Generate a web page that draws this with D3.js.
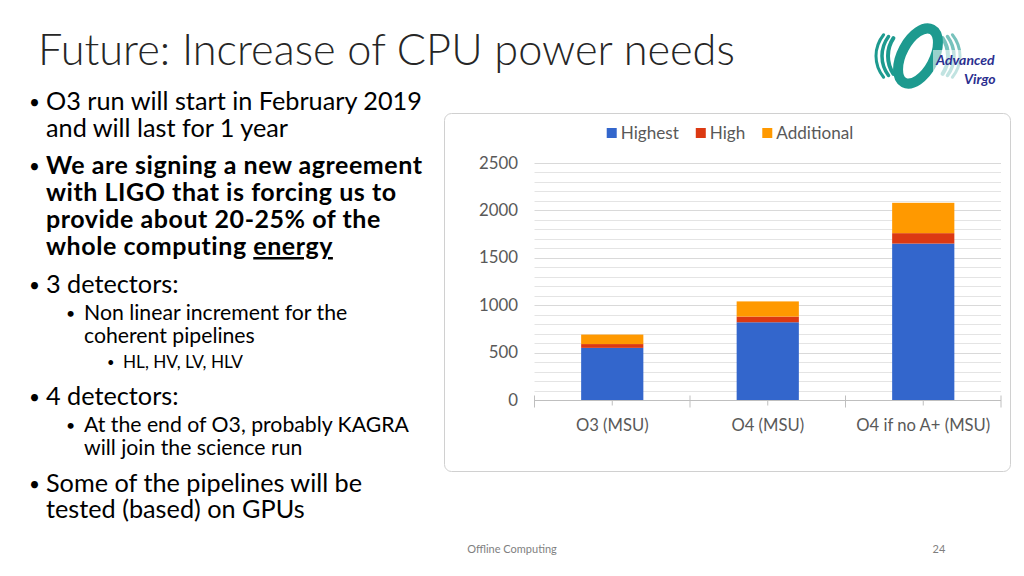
<!DOCTYPE html>
<html><head><meta charset="utf-8">
<script src="https://cdn.jsdelivr.net/npm/d3@7"></script>
<style>body{margin:0;background:#fff;} svg{display:block}</style>
</head><body>
<svg id="s" width="1024" height="576"></svg>
<script>
// ---- chart data ----
const categories = ["O3 (MSU)", "O4 (MSU)", "O4 if no A+ (MSU)"];
const seriesNames = ["Highest", "High", "Additional"];
const highest = [550, 820, 1650];
const high = [40, 60, 110];
const additional = [100, 160, 320];
const yTickValues = [0, 500, 1000, 1500, 2000, 2500];
const minorStep = 100;
const seriesColors = ["#3366cc", "#dc3912", "#ff9900"];

const FONT = "Lato, 'Open Sans', sans-serif";
const svg = d3.select("#s");

function measure(text, weight, size) {
  const t = svg.append("text").attr("font-family", FONT).attr("font-weight", weight || 400)
    .attr("font-size", size).text(text);
  const w = t.node().getComputedTextLength();
  t.remove();
  return w;
}
function fitSize(text, weight, target) {
  return 100 * target / measure(text, weight, 100);
}

// ---- slide title ----
const titleSize = fitSize("Future: Increase of CPU power needs", 300, 697);
svg.append("text").attr("x", 38).attr("y", 65).attr("font-family", FONT).attr("font-weight", 300)
  .attr("font-size", titleSize).attr("fill", "#262626").text("Future: Increase of CPU power needs");

// ---- bullets ----
const s1 = fitSize("O3 run will start in February 2019", 400, 376);
const s1b = Math.min(fitSize("We are signing a new agreement", 700, 376), s1 * 0.99);
const boldRef = "We are signing a new agreement";
const boldLS = (376 - measure(boldRef, 700, s1b)) / (boldRef.length - 1);
const s2 = fitSize("At the end of O3, probably KAGRA", 400, 325);
const s3 = fitSize("HL, HV, LV, HLV", 400, 120);
const bulletLines = [
  {lvl:1, y:110, t:"O3 run will start in February 2019", b:true},
  {lvl:1, y:137, t:"and will last for 1 year"},
  {lvl:1, y:174, t:"We are signing a new agreement", b:true, bold:true},
  {lvl:1, y:201, t:"with LIGO that is forcing us to", bold:true},
  {lvl:1, y:228, t:"provide about 20-25% of the", bold:true},
  {lvl:1, y:255, t:"whole computing ", bold:true, u:"energy"},
  {lvl:1, y:293, t:"3 detectors:", b:true},
  {lvl:2, y:320, t:"Non linear increment for the", b:true},
  {lvl:2, y:343, t:"coherent pipelines"},
  {lvl:3, y:368, t:"HL, HV, LV, HLV", b:true},
  {lvl:1, y:405, t:"4 detectors:", b:true},
  {lvl:2, y:432, t:"At the end of O3, probably KAGRA", b:true},
  {lvl:2, y:455, t:"will join the science run"},
  {lvl:1, y:492, t:"Some of the pipelines will be", b:true},
  {lvl:1, y:518, t:"tested (based) on GPUs"}
];
const lvlX = {1:46, 2:84, 3:123};
const lvlB = {1:29, 2:66, 3:107};
bulletLines.forEach(l => {
  const size = l.lvl === 1 ? (l.bold ? s1b : s1) : l.lvl === 2 ? s2 : s3;
  if (l.b) svg.append("text").attr("x", lvlB[l.lvl]).attr("y", l.y - size * 0.05).attr("font-family", FONT)
    .attr("font-size", size * 0.75).attr("fill", "#000").text("•");
  const t = svg.append("text").attr("x", lvlX[l.lvl]).attr("y", l.y).attr("font-family", FONT)
    .attr("font-weight", l.bold ? 700 : 400).attr("font-size", size).attr("fill", "#000")
    .attr("letter-spacing", l.bold ? boldLS : 0);
  t.append("tspan").text(l.t);
  if (l.u) t.append("tspan").attr("text-decoration", "underline").text(l.u);
});

// ---- logo ----
const teal = "#1d9a8f";
const cx = 918, cy = 56;
function arcPath(rx, ry, a0, a1) {
  const r = Math.PI / 180;
  const p0 = [cx + rx * Math.cos(a0 * r), cy + ry * Math.sin(a0 * r)];
  const p1 = [cx + rx * Math.cos(a1 * r), cy + ry * Math.sin(a1 * r)];
  return `M${p0[0]},${p0[1]} A${rx},${ry} 0 0 0 ${p1[0]},${p1[1]}`;
}
[[30, 31, 4], [36, 34, 3.5], [42, 37, 3]].forEach(([rx, ry, sw]) => {
  svg.append("path").attr("d", arcPath(rx, ry, 215, 145))
    .attr("fill", "none").attr("stroke", teal).attr("stroke-width", sw).attr("stroke-linecap", "round");
  svg.append("path").attr("d", arcPath(rx, ry, 35, -35))
    .attr("fill", "none").attr("stroke", teal).attr("stroke-width", sw).attr("stroke-linecap", "round").attr("opacity", 0.6);
});
svg.append("ellipse").attr("cx", cx).attr("cy", cy).attr("rx", 16).attr("ry", 30)
  .attr("transform", `rotate(28,${cx},${cy})`)
  .attr("fill", "none").attr("stroke", teal).attr("stroke-width", 10);
svg.append("rect").attr("x", 933).attr("y", 50).attr("width", 72).attr("height", 40).attr("fill", "#fff").attr("opacity", 0.55);
svg.append("text").attr("x", 936).attr("y", 65).attr("font-family", FONT).attr("font-style", "italic")
  .attr("font-weight", 700).attr("font-size", 14).attr("fill", "#2b2f8f").text("Advanced");
svg.append("text").attr("x", 964).attr("y", 84).attr("font-family", FONT).attr("font-style", "italic")
  .attr("font-weight", 700).attr("font-size", 14).attr("fill", "#2b2f8f").text("Virgo");

// ---- footer ----
svg.append("text").attr("x", 512).attr("y", 553).attr("text-anchor", "middle").attr("font-family", FONT)
  .attr("font-size", 11).attr("fill", "#7f7f7f").text("Offline Computing");
svg.append("text").attr("x", 939).attr("y", 553).attr("text-anchor", "middle").attr("font-family", FONT)
  .attr("font-size", 11).attr("fill", "#7f7f7f").text("24");

// ---- chart box ----
svg.append("rect").attr("x", 444.5).attr("y", 113.5).attr("width", 566).attr("height", 358).attr("rx", 7)
  .attr("fill", "#fff").attr("stroke", "#d0d0d0");

const plot = {left: 534.5, right: 1001, top: 163, bottom: 400};
const y = d3.scaleLinear().domain([0, 2500]).range([plot.bottom, plot.top]);
const x = d3.scaleBand().domain(categories).range([plot.left, plot.right]).paddingInner(0).paddingOuter(0);

// gridlines
const grid = d3.range(minorStep, 2500 + 1, minorStep);
svg.append("g").selectAll("line").data(grid).join("line")
  .attr("x1", plot.left).attr("x2", plot.right)
  .attr("y1", d => Math.round(y(d)) + 0.5).attr("y2", d => Math.round(y(d)) + 0.5)
  .attr("stroke", d => d % 500 === 0 ? "#d9d9d9" : "#e4e4e4").attr("stroke-width", 1);

// stacked bars
const table = categories.map((c, i) => ({cat: c, Highest: highest[i], High: high[i], Additional: additional[i]}));
const stacked = d3.stack().keys(seriesNames)(table);
const barW = x.bandwidth() * 0.4;
svg.append("g").selectAll("g").data(stacked).join("g").attr("fill", (d, i) => seriesColors[i])
  .selectAll("rect").data(d => d).join("rect")
  .attr("x", d => x(d.data.cat) + (x.bandwidth() - barW) / 2)
  .attr("width", barW)
  .attr("y", d => y(d[1]))
  .attr("height", d => y(d[0]) - y(d[1]));

// x axis
const axisG = svg.append("g").attr("transform", `translate(0,${plot.bottom + 0.5})`);
axisG.append("line").attr("x1", plot.left).attr("x2", plot.right).attr("stroke", "#bfbfbf");
const bounds = [plot.left].concat(categories.map(c => x(c) + x.bandwidth()));
axisG.selectAll("line.b").data(bounds).join("line").attr("class", "b")
  .attr("x1", d => d).attr("x2", d => d).attr("y1", -5).attr("y2", 7).attr("stroke", "#bfbfbf");
axisG.selectAll("line.c").data(categories).join("line").attr("class", "c")
  .attr("x1", d => x(d) + x.bandwidth() / 2).attr("x2", d => x(d) + x.bandwidth() / 2)
  .attr("y1", 0).attr("y2", 5).attr("stroke", "#bfbfbf");
const xl = fitSize("O4 if no A+ (MSU)", 400, 134);
axisG.selectAll("text").data(categories).join("text")
  .attr("x", d => x(d) + x.bandwidth() / 2).attr("y", 30).attr("text-anchor", "middle")
  .attr("font-family", FONT).attr("font-size", xl).attr("fill", "#595959").text(d => d);

// y axis labels
const yl = fitSize("2500", 400, 39);
svg.append("g").selectAll("text").data(yTickValues).join("text")
  .attr("x", 518).attr("y", d => y(d) + 5.5).attr("text-anchor", "end")
  .attr("font-family", FONT).attr("font-size", yl).attr("fill", "#595959").text(d => d);

// legend
const lg = fitSize("Additional", 400, 77);
const legend = svg.append("g");
let lx = 0;
seriesNames.forEach((n, i) => {
  const g = legend.append("g").attr("transform", `translate(${lx},0)`);
  g.append("rect").attr("x", 0).attr("y", -5).attr("width", 10).attr("height", 10).attr("fill", seriesColors[i]);
  const t = g.append("text").attr("x", 14).attr("y", 5.5).attr("font-family", FONT).attr("font-size", lg)
    .attr("fill", "#595959").text(n);
  lx += 14 + t.node().getComputedTextLength() + 17;
});
const lw = lx - 17;
legend.attr("transform", `translate(${730 - lw / 2},133)`);
</script>
</body></html>
